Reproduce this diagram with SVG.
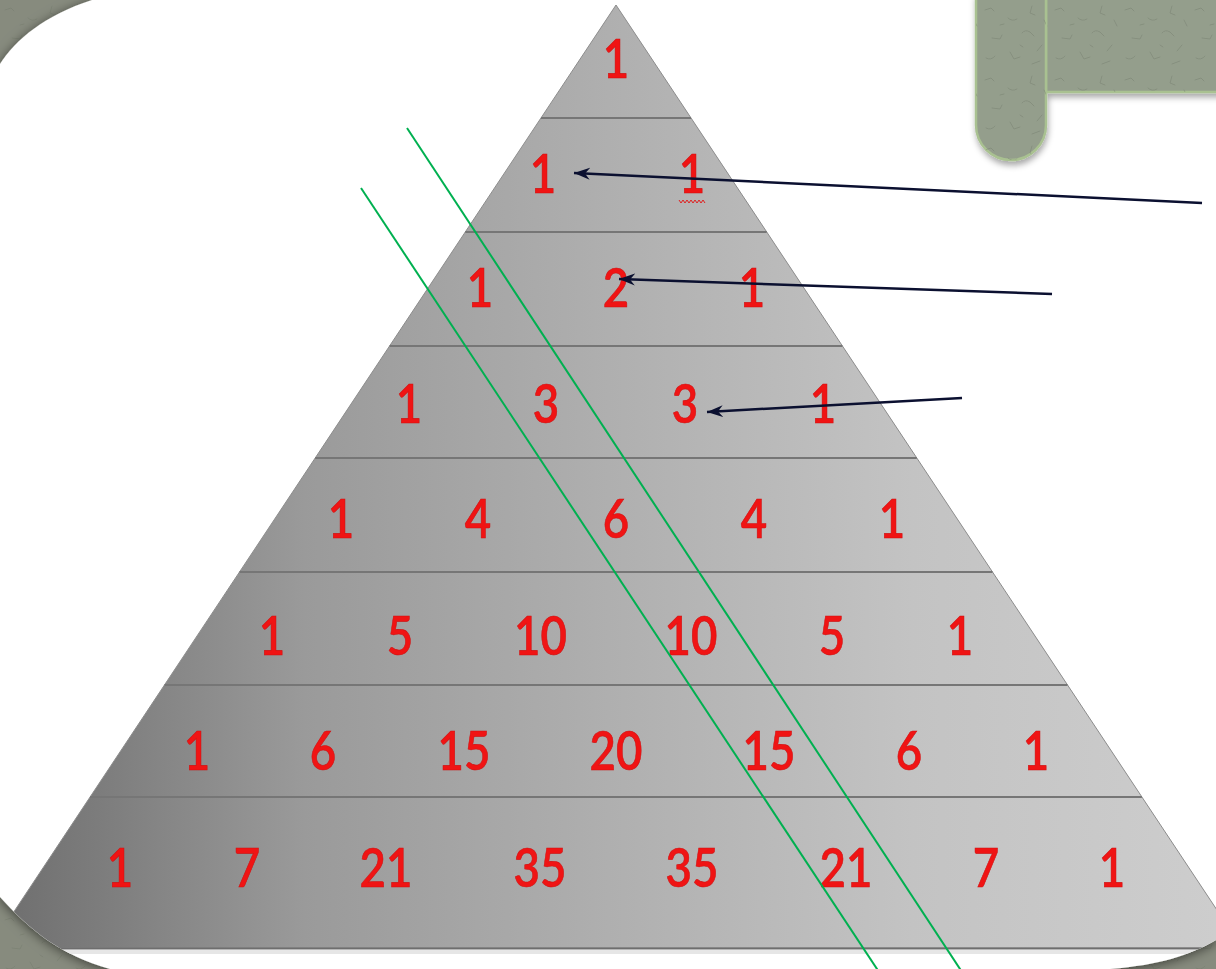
<svg xmlns="http://www.w3.org/2000/svg" width="1216" height="969" viewBox="0 0 1216 969">
  <style>
    .num { font-family: Lato, "Liberation Sans", sans-serif; font-size: 53px; font-weight: 600; fill: #f01414; stroke: #d01010; stroke-width: 0.6; text-anchor: middle; }
    .band { stroke: #767676; stroke-width: 2; }
    .arrow { stroke: #0b1030; stroke-width: 2.5; fill: none; marker-end: url(#head); }
    .green { stroke: #00b050; stroke-width: 2; fill: none; }
    .scroll { fill: #949e8c; stroke: #a9c191; stroke-width: 2.5; }
  </style>
  <defs>
    <pattern id="tex" width="70" height="70" patternUnits="userSpaceOnUse">
      <g stroke="#6f7868" stroke-width="1" fill="none" opacity="0.4" stroke-linecap="round">
        <path d="M5 10 l6 -2 l3 3"/>
        <path d="M28 18 q4 4 9 1"/>
        <path d="M52 6 l-2 7 l5 2"/>
        <path d="M12 38 l8 1 l2 -4"/>
        <path d="M42 33 q3 -4 8 -1 l4 4"/>
        <path d="M62 45 l-5 6"/>
        <path d="M6 58 q5 3 9 -2"/>
        <path d="M30 52 l4 7 l6 -2"/>
        <path d="M52 64 l8 -3"/>
        <path d="M64 20 l3 6"/>
        <path d="M20 25 l4 -1"/>
        <path d="M40 45 l3 2"/>
      </g>
    </pattern>
    <linearGradient id="pyr" gradientUnits="userSpaceOnUse" x1="0" y1="0" x2="1216" y2="0">
      <stop offset="0" stop-color="#6e6e6e"/>
      <stop offset="0.25" stop-color="#9a9a9a"/>
      <stop offset="0.5" stop-color="#afafaf"/>
      <stop offset="0.75" stop-color="#c3c3c3"/>
      <stop offset="1" stop-color="#cdcdcd"/>
    </linearGradient>
    <clipPath id="pageClip">
      <path d="M92 0 L1216 0 L1216 940 C1190 955 1160 965 1110 969 L110 969 C60 955 30 930 0 897 L0 64 C15 40 45 15 92 0 Z"/>
    </clipPath>
    <filter id="pageShadow" x="-5%" y="-5%" width="110%" height="110%">
      <feDropShadow dx="0" dy="2" stdDeviation="6" flood-color="#000" flood-opacity="0.55"/>
    </filter>
    <filter id="scrollShadow" x="-20%" y="-20%" width="140%" height="140%">
      <feDropShadow dx="1" dy="4" stdDeviation="3" flood-color="#000" flood-opacity="0.35"/>
    </filter>
    <marker id="head" markerUnits="userSpaceOnUse" markerWidth="18" markerHeight="14" refX="16" refY="6" orient="auto">
      <path d="M16 6 L0 0 L5 6 L0 12 Z" fill="#0b1030"/>
    </marker>
  </defs>

  <!-- frame -->
  <g id="frame">
    <rect x="0" y="0" width="1216" height="969" fill="#878b7e"/>
    <rect x="0" y="0" width="1216" height="969" fill="url(#tex)"/>
  </g>

  <!-- page -->
  <path id="page" d="M92 0 L1216 0 L1216 940 C1190 955 1160 965 1110 969 L110 969 C60 955 30 930 0 897 L0 64 C15 40 45 15 92 0 Z" fill="#ffffff" filter="url(#pageShadow)"/>

  <!-- pyramid -->
  <g id="pyramid" clip-path="url(#pageClip)">
    <polygon points="616,5 -10.2,948 1242.2,948" fill="url(#pyr)" stroke="#8c8c8c" stroke-width="1"/>
    <line x1="-12" y1="948.5" x2="1245" y2="948.5" stroke="#6e6e6e" stroke-width="2"/>
    <rect x="0" y="950" width="1216" height="4" fill="#e6e6e6"/>
    <line class="band" x1="541" y1="118" x2="691" y2="118"/>
    <line class="band" x1="465.3" y1="232" x2="766.7" y2="232"/>
    <line class="band" x1="389.6" y1="346" x2="842.4" y2="346"/>
    <line class="band" x1="315.2" y1="458" x2="916.8" y2="458"/>
    <line class="band" x1="239.5" y1="572" x2="992.5" y2="572"/>
    <line class="band" x1="164.5" y1="685" x2="1067.5" y2="685"/>
    <line class="band" x1="90.1" y1="797" x2="1141.9" y2="797"/>
  </g>

  <!-- numbers -->
  <g id="row-0" transform="scale(0.86,1)">
    <text class="num" x="716.3" y="78">1</text>
  </g>
  <g id="row-1" transform="scale(0.86,1)">
    <text class="num" x="631.4" y="193">1</text>
    <text class="num" x="804.7" y="193">1</text>
  </g>
  <path id="squiggle" d="M679 200 l2 3 l2 -3 l2 3 l2 -3 l2 3 l2 -3 l2 3 l2 -3 l2 3 l2 -3 l2 3 l2 -3 l2 3" fill="none" stroke="#e02020" stroke-width="1"/>
  <g id="row-2" transform="scale(0.86,1)">
    <text class="num" x="558.1" y="307">1</text>
    <text class="num" x="716.3" y="307">2</text>
    <text class="num" x="874.4" y="307">1</text>
  </g>
  <g id="row-3" transform="scale(0.86,1)">
    <text class="num" x="475.6" y="423">1</text>
    <text class="num" x="634.9" y="423">3</text>
    <text class="num" x="796.5" y="423">3</text>
    <text class="num" x="957.0" y="423">1</text>
  </g>
  <g id="row-4" transform="scale(0.86,1)">
    <text class="num" x="396.5" y="538">1</text>
    <text class="num" x="555.8" y="538">4</text>
    <text class="num" x="716.3" y="538">6</text>
    <text class="num" x="876.7" y="538">4</text>
    <text class="num" x="1037.2" y="538">1</text>
  </g>
  <g id="row-5" transform="scale(0.86,1)">
    <text class="num" x="316.3" y="655">1</text>
    <text class="num" x="465.1" y="655">5</text>
    <text class="num" x="628.5" y="655">10</text>
    <text class="num" x="803.5" y="655">10</text>
    <text class="num" x="967.4" y="655">5</text>
    <text class="num" x="1116.3" y="655">1</text>
  </g>
  <g id="row-6" transform="scale(0.86,1)">
    <text class="num" x="229.1" y="770">1</text>
    <text class="num" x="375.6" y="770">6</text>
    <text class="num" x="539.5" y="770">15</text>
    <text class="num" x="716.3" y="770">20</text>
    <text class="num" x="894.2" y="770">15</text>
    <text class="num" x="1057.0" y="770">6</text>
    <text class="num" x="1204.7" y="770">1</text>
  </g>
  <g id="row-7" transform="scale(0.86,1)">
    <text class="num" x="139.5" y="887">1</text>
    <text class="num" x="287.2" y="887">7</text>
    <text class="num" x="448.8" y="887">21</text>
    <text class="num" x="627.9" y="887">35</text>
    <text class="num" x="804.7" y="887">35</text>
    <text class="num" x="983.7" y="887">21</text>
    <text class="num" x="1146.5" y="887">7</text>
    <text class="num" x="1293.0" y="887">1</text>
  </g>

  <!-- scroll decoration -->
  <g id="scroll" filter="url(#scrollShadow)">
    <rect class="scroll" x="1046" y="-5" width="180" height="97"/>
    <rect x="1046" y="-5" width="180" height="97" fill="url(#tex)"/>
    <path class="scroll" d="M976 -5 L1046 -5 L1046 125 A35 35 0 0 1 976 125 Z"/>
    <path d="M976 -5 L1046 -5 L1046 125 A35 35 0 0 1 976 125 Z" fill="url(#tex)"/>
  </g>

  <!-- connectors -->
  <g id="connectors">
    <line class="green" x1="407" y1="128" x2="962" y2="972"/>
    <line class="green" x1="361" y1="188" x2="879" y2="972"/>
    <line class="arrow" x1="1202" y1="203" x2="574" y2="173"/>
    <line class="arrow" x1="1052" y1="294" x2="619" y2="279"/>
    <line class="arrow" x1="962" y1="398" x2="707" y2="412"/>
  </g>
</svg>
